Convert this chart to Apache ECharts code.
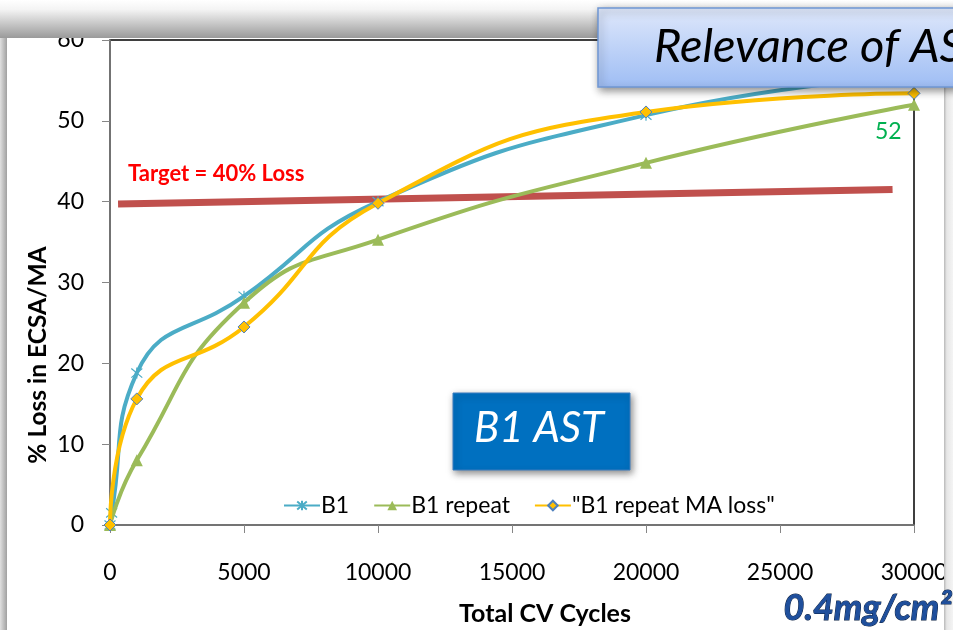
<!DOCTYPE html>
<html><head><meta charset="utf-8">
<script src="https://cdn.jsdelivr.net/npm/echarts@6/dist/echarts.min.js"></script>
<style>html,body{margin:0;padding:0;background:#fff}#c{width:953px;height:630px}</style>
</head><body><div id="c"></div>
<script>
const cycles = [0, 60, 1000, 5000, 10000, 20000, 30000];
const b1 = [0, 1.5, 18.8, 28.3, 40.0, 50.7, 55.6];
const repeatCycles = [0, 1000, 5000, 10000, 20000, 30000];
const b1Repeat = [0, 8.0, 27.5, 35.3, 44.8, 52.0];
const maCycles = [0, 1000, 5000, 10000, 20000, 30000];
const b1RepeatMA = [0, 15.6, 24.5, 39.8, 51.1, 53.4];
const targetCycles = [300, 29200];
const targetValues = [39.7, 41.5];
const xTicks = [0, 5000, 10000, 15000, 20000, 25000, 30000];
const yTicks = [0, 10, 20, 30, 40, 50, 60];
const xTitle = 'Total CV Cycles';
const yTitle = '% Loss in ECSA/MA';

const F = 'Lato, "Open Sans", sans-serif';
const pair = (xs, ys) => xs.map((x, i) => [x, ys[i]]);
const chart = echarts.init(document.getElementById('c'));
const asterisk = 'path://M0,-6L0,6M-5,-5L5,5M-5,5L5,-5';

chart.setOption({
  animation: false,
  backgroundColor: '#ffffff',
  grid: { left: 110, right: 39, top: 40, bottom: 105, containLabel: false, outerBoundsMode: 'none',
    show: true, borderColor: '#000', borderWidth: 1.5, backgroundColor: 'transparent' },
  xAxis: {
    type: 'value', min: xTicks[0], max: xTicks[xTicks.length - 1], interval: 5000,
    axisLine: { lineStyle: { color: '#868686', width: 1.5 } },
    axisTick: { show: true, length: 8, lineStyle: { color: '#868686' } },
    axisLabel: { fontFamily: F, fontSize: 23, color: '#000', margin: 36, formatter: v => String(v) },
    splitLine: { show: false }
  },
  yAxis: {
    type: 'value', min: yTicks[0], max: yTicks[yTicks.length - 1], interval: 10,
    axisLine: { show: true, lineStyle: { color: '#868686', width: 1.5 } },
    axisTick: { show: true, length: 8, inside: false, lineStyle: { color: '#868686' } },
    axisLabel: { fontFamily: F, fontSize: 23, color: '#000', margin: 26 },
    splitLine: { show: false }
  },
  legend: {
    left: 278, top: 489, itemWidth: 36, itemHeight: 12, itemGap: 24,
    textStyle: { fontFamily: F, fontSize: 23, color: '#000', padding: [0, 0, 0, -4] },
    data: ['B1', 'B1 repeat', '"B1 repeat MA loss"']
  },
  series: [
    { name: 'Target', type: 'line', data: pair(targetCycles, targetValues), symbol: 'none',
      lineStyle: { color: '#c0504d', width: 7 }, z: 1, silent: true },
    { name: 'B1', type: 'line', data: pair(cycles, b1), smooth: 0.5, symbol: asterisk, symbolSize: 11,
      lineStyle: { color: '#4bacc6', width: 4 }, itemStyle: { color: '#4bacc6', borderColor: '#4bacc6', borderWidth: 1.2 }, z: 3 },
    { name: 'B1 repeat', type: 'line', data: pair(repeatCycles, b1Repeat), smooth: 0.5, symbol: 'triangle', symbolSize: 12,
      lineStyle: { color: '#9bbb59', width: 4 }, itemStyle: { color: '#9bbb59' }, z: 4 },
    { name: '"B1 repeat MA loss"', type: 'line', data: pair(maCycles, b1RepeatMA), smooth: 0.5, symbol: 'diamond', symbolSize: 12,
      lineStyle: { color: '#ffc000', width: 4 }, itemStyle: { color: '#ffc000', borderColor: '#4f81bd', borderWidth: 1 }, z: 5 }
  ],
  graphic: [
    { type: 'text', z: 50, x: 545, y: 614,
      style: { text: xTitle, font: 'bold 25px ' + F, fill: '#000', align: 'center', verticalAlign: 'middle' } },
    { type: 'text', z: 50, x: 38, y: 355, rotation: Math.PI / 2,
      style: { text: yTitle, font: 'bold 24.5px ' + F, fill: '#000', align: 'center', verticalAlign: 'middle' } },
    { type: 'rect', z: 100, shape: { x: 0, y: 0, width: 953, height: 38 },
      style: { fill: new echarts.graphic.LinearGradient(0, 0, 0, 1, [{ offset: 0, color: '#ffffff' }, { offset: 0.25, color: '#f4f4f4' }, { offset: 1, color: '#9a9a9a' }]) } },
    { type: 'rect', z: 100, shape: { x: 0, y: 38, width: 7, height: 592 },
      style: { fill: new echarts.graphic.LinearGradient(0, 0, 1, 0, [{ offset: 0, color: '#e0e0e0' }, { offset: 1, color: '#a0a0a0' }]) } },
    { type: 'rect', z: 100, shape: { x: 944, y: 38, width: 9, height: 592 },
      style: { fill: new echarts.graphic.LinearGradient(0, 0, 1, 0, [{ offset: 0, color: '#b8b8b8' }, { offset: 0.3, color: '#e6e6e6' }, { offset: 1, color: '#f4f4f4' }]) } },
    { type: 'rect', z: 110, shape: { x: 598, y: 8, width: 420, height: 79 },
      style: { fill: new echarts.graphic.LinearGradient(0, 0, 0, 1, [{ offset: 0, color: '#dfe8fb' }, { offset: 1, color: '#9ebdf4' }]),
        stroke: '#6f96d3', lineWidth: 1.5, shadowBlur: 8, shadowColor: 'rgba(0,0,0,0.45)', shadowOffsetX: 2, shadowOffsetY: 3 } },
    { type: 'text', z: 111, left: 654, top: 23,
      style: { text: 'Relevance of AST', font: 'italic 47px ' + F, fill: '#000' } },
    { type: 'rect', z: 110, shape: { x: 453, y: 393, width: 177, height: 77 },
      style: { fill: '#0070c0', stroke: '#3a7cc0', lineWidth: 1, shadowBlur: 7, shadowColor: 'rgba(0,0,0,0.45)', shadowOffsetX: 2, shadowOffsetY: 3 } },
    { type: 'text', z: 111, left: 474, top: 407,
      style: { text: 'B1 AST', font: 'italic 42px ' + F, fill: '#ffffff' } },
    { type: 'text', z: 50, left: 128, top: 163,
      style: { text: 'Target = 40% Loss', font: 'bold 22px ' + F, fill: '#ff0000' } },
    { type: 'text', z: 50, left: 875, top: 120,
      style: { text: '52', font: '23px ' + F, fill: '#00b050' } },
    { type: 'text', z: 120, left: 783, top: 590,
      style: { text: '0.4mg/cm²', font: 'italic bold 36px ' + F, fill: '#1f4f9c', stroke: '#0a1f40', lineWidth: 1,
        shadowBlur: 3, shadowColor: 'rgba(0,0,0,0.6)', shadowOffsetX: 2, shadowOffsetY: 2 } }
  ]
});
</script></body></html>
